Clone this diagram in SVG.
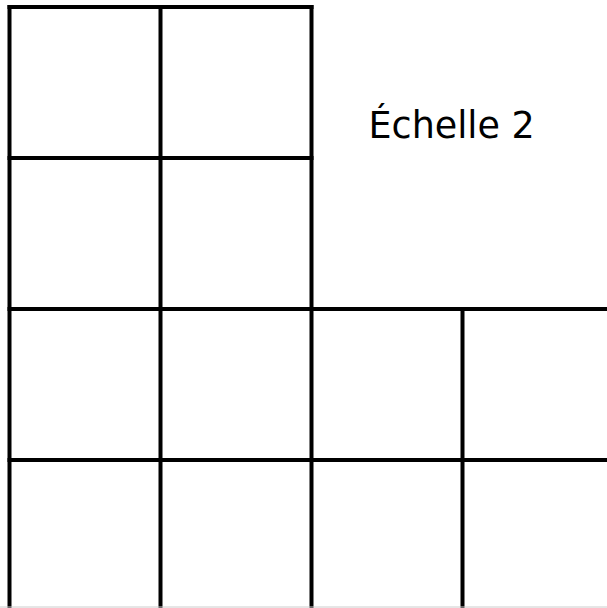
<svg xmlns="http://www.w3.org/2000/svg" width="607" height="608" viewBox="0 0 607 608">
  <style>
    .g { stroke: #000; stroke-width: 4; fill: none; stroke-linecap: square; }
    .t { font-family: "DejaVu Sans", Verdana, sans-serif; font-size: 36.5px; fill: #000; }
  </style>
  <rect x="0" y="0" width="607" height="608" fill="#fff"/>
  <g id="grid" class="g">
    <line x1="9.5" y1="7" x2="311.5" y2="7"/>
    <line x1="9.5" y1="158" x2="311.5" y2="158"/>
    <line x1="9.5" y1="309" x2="615" y2="309"/>
    <line x1="9.5" y1="460" x2="615" y2="460"/>
    <line x1="9.5" y1="7" x2="9.5" y2="615"/>
    <line x1="160.5" y1="7" x2="160.5" y2="615"/>
    <line x1="311.5" y1="7" x2="311.5" y2="615"/>
    <line x1="462.5" y1="309" x2="462.5" y2="615"/>
  </g>
  <line x1="0" y1="607" x2="607" y2="607" stroke="#ccc" stroke-width="1"/>
  <g id="label">
    <text class="t" x="368.5" y="138">Échelle 2</text>
  </g>
</svg>
